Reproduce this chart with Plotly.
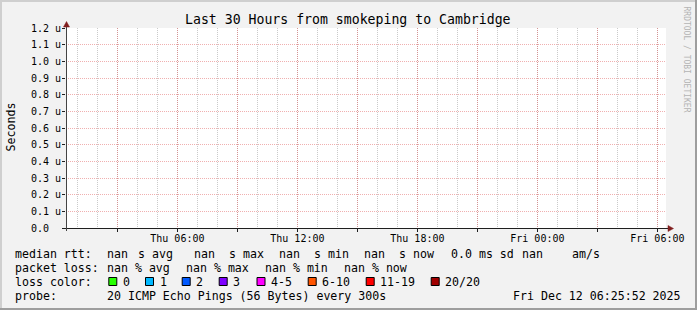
import plotly.graph_objects as go

# ---------------- data ----------------
time_start = "2025-12-11 00:25:52"
time_end = "2025-12-12 06:25:52"
times = [time_start, time_end]
median_rtt_s = [None, None]          # no measurements: all nan

y_tick_values = [0.0, 0.1e-6, 0.2e-6, 0.3e-6, 0.4e-6, 0.5e-6, 0.6e-6,
                 0.7e-6, 0.8e-6, 0.9e-6, 1.0e-6, 1.1e-6, 1.2e-6]
y_tick_labels = ["0.0\u00a0\u00a0", "0.1 u", "0.2 u", "0.3 u", "0.4 u", "0.5 u", "0.6 u",
                 "0.7 u", "0.8 u", "0.9 u", "1.0 u", "1.1 u", "1.2 u"]
x_major_ticks = ["2025-12-11 03:00", "2025-12-11 06:00", "2025-12-11 09:00",
                 "2025-12-11 12:00", "2025-12-11 15:00", "2025-12-11 18:00",
                 "2025-12-11 21:00", "2025-12-12 00:00", "2025-12-12 03:00",
                 "2025-12-12 06:00"]
x_tick_labels = ["", "Thu 06:00", "", "Thu 12:00", "", "Thu 18:00", "",
                 "Fri 00:00", "", "Fri 06:00"]

title_text = "Last 30 Hours from smokeping to Cambridge"
y_title = "Seconds"
watermark = "RRDTOOL / TOBI OETIKER"
rtt_legend = ["median rtt:", "nan", "s avg", "nan", "s max", "nan", "s min",
              "nan", "s now", "0.0 ms sd", "nan", "am/s"]
loss_legend = ["packet loss:", "nan % avg", "nan % max", "nan % min", "nan % now"]
loss_color_title = "loss color:"
loss_color_labels = ["0", "1", "2", "3", "4-5", "6-10", "11-19", "20/20"]
loss_colors = ["#26ff00", "#00b8ff", "#0059ff", "#7e00ff", "#ff00ff",
               "#ff5500", "#ff0000", "#a10000"]
probe_title = "probe:"
probe_text = "20 ICMP Echo Pings (56 Bytes) every 300s"
timestamp_text = "Fri Dec 12 06:25:52 2025"

# ---------------- layout helpers ----------------
W, H = 697, 310
L, R, T, B = 66, 666, 28, 228
def PX(x):
    return (x - L) / (R - L)
def PY(y):
    return (B - y) / (B - T)

MONO = "DejaVu Sans Mono"
LEG = 11.6
BG = "#f2f2f2"
MGRID = "rgba(222,79,79,0.45)"
GRID = "rgba(150,150,150,0.5)"

fig = go.Figure()
fig.add_trace(go.Scatter(x=times, y=median_rtt_s, mode="lines",
                         line=dict(color="#000000", width=1),
                         showlegend=False, hoverinfo="skip"))

annotations = []
def text(x, y, s, size=LEG, anchor="left", color="#000000", angle=0):
    annotations.append(dict(x=PX(x), y=PY(y), xref="paper", yref="paper",
                            text=s, showarrow=False, xanchor=anchor, yanchor="middle",
                            textangle=angle, borderpad=0, borderwidth=0,
                            font=dict(family=MONO, size=size, color=color)))

text(348.0, 19.5, title_text, size=13.2, anchor="center")
text(10, 127.5, y_title, size=LEG, anchor="center", angle=-90)
text(686.5, 59, watermark, size=8, anchor="center", color="#b4b4b4", angle=90)

rtt_x = [16, 107.3, 138.3, 194.3, 229.3, 279.3, 314.3, 365, 400, 451.7, 522.7, 572.3]
for s, x in zip(rtt_legend, rtt_x):
    text(x - 0.7, 254.0, s)
loss_x = [16, 107.3, 186.7, 265.7, 345]
for s, x in zip(loss_legend, loss_x):
    text(x - 0.7, 268.2, s)
text(16 - 0.7, 282.3, loss_color_title)
box_x = [108.3, 145, 181.7, 218.7, 256.5, 307.7, 365.7, 430.7]
shapes = []
for c, s, bx in zip(loss_colors, loss_color_labels, box_x):
    text(bx + 15.2 - 0.7, 282.3, s)
    shapes.append(dict(type="rect", xref="paper", yref="paper",
                       x0=PX(bx + 0.5), x1=PX(bx + 8.5), y0=PY(277.5), y1=PY(285.5),
                       fillcolor=c, line=dict(color="#000000", width=1)))
text(16 - 0.7, 296.3, probe_title)
text(107.3 - 0.7, 296.3, probe_text)
text(681, 296.3, timestamp_text, anchor="right")

# frame shading
def rect(x0, y0, x1, y1, col):
    shapes.append(dict(type="rect", xref="paper", yref="paper", layer="above",
                       x0=PX(x0), x1=PX(x1), y0=PY(y0), y1=PY(y1),
                       fillcolor=col, line=dict(width=0)))
rect(0, 0, 697, 2, "#cfcfcf")
rect(0, 0, 2, 310, "#cfcfcf")
rect(695, 0, 697, 310, "#9e9e9e")
rect(0, 308, 697, 310, "#9e9e9e")

# axis lines
shapes.append(dict(type="line", xref="paper", yref="paper", layer="above",
                   x0=PX(63), x1=PX(669), y0=PY(228.5), y1=PY(228.5),
                   line=dict(color="#1f1f1f", width=1)))
shapes.append(dict(type="line", xref="paper", yref="paper", layer="above",
                   x0=PX(66.5), x1=PX(66.5), y0=PY(231), y1=PY(26),
                   line=dict(color="#444444", width=1)))
# arrows
shapes.append(dict(type="path", xref="paper", yref="paper", layer="above",
                   path="M {} {} L {} {} L {} {} Z".format(PX(668), PY(225.5), PX(673.5), PY(228.5), PX(668), PY(231.5)),
                   fillcolor="#801f1f", line=dict(color="#801f1f", width=0.5)))
shapes.append(dict(type="path", xref="paper", yref="paper", layer="above",
                   path="M {} {} L {} {} L {} {} Z".format(PX(63.5), PY(27), PX(66.5), PY(21.5), PX(69.5), PY(27)),
                   fillcolor="#801f1f", line=dict(color="#801f1f", width=0.5)))

fig.update_layout(
    width=W, height=H,
    margin=dict(l=L, r=W - R, t=T, b=H - B, pad=0),
    paper_bgcolor=BG, plot_bgcolor="#ffffff",
    showlegend=False,
    annotations=annotations, shapes=shapes,
    xaxis=dict(type="date", range=[time_start, time_end],
               tickmode="array", tickvals=x_major_ticks, ticktext=x_tick_labels,
               showgrid=True, gridcolor=MGRID, griddash="1px,1px", gridwidth=1,
               ticks="outside", ticklen=3, tickcolor="#1f1f1f", ticklabelstandoff=-2,
               tickfont=dict(family=MONO, size=10, color="#000000"),
               minor=dict(dtick=3600000, tick0="2025-12-11 00:00", showgrid=True,
                          gridcolor=GRID, griddash="1px,1px", gridwidth=1,
                          ticks=""),
               zeroline=False, showline=False, fixedrange=True),
    yaxis=dict(range=[0, 1.2e-6], tickmode="array", tickvals=y_tick_values, ticktext=y_tick_labels,
               showgrid=True, gridcolor=MGRID, griddash="1px,1px", gridwidth=1,
               ticks="outside", ticklen=3, tickcolor="#1f1f1f", ticklabelstandoff=-1,
               tickfont=dict(family=MONO, size=10, color="#000000"),
               zeroline=False, showline=False, fixedrange=True),
)

fig.write_html("out.html", config=dict(displayModeBar=False))
